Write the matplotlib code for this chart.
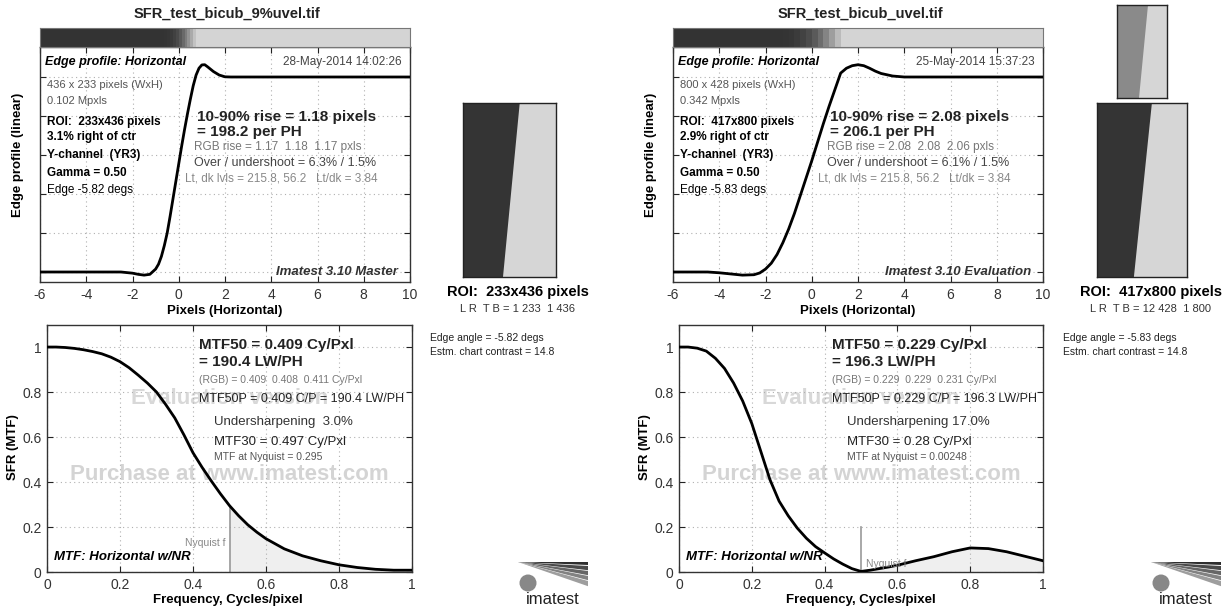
import matplotlib.pyplot as plt
from matplotlib.patches import Polygon, Circle

plt.rcParams['font.family'] = ['Liberation Sans', 'DejaVu Sans']
plt.rcParams['axes.unicode_minus'] = False

# ---- data ----
# edge profiles (normalised, dark=0, light=1)
edge_x_left = [-6, -4, -2.5, -2, -1.75, -1.5, -1.25, -1.0, -0.875, -0.75, -0.625, -0.5,
               -0.375, -0.25, -0.125, 0, 0.125, 0.25, 0.375, 0.5, 0.625, 0.75, 0.875,
               1.0, 1.125, 1.25, 1.5, 1.75, 2.0, 2.25, 4, 6, 8, 10]
edge_y_left = [0, 0, 0, -0.006, -0.012, -0.016, -0.012, 0.015, 0.04, 0.08, 0.135, 0.2,
               0.285, 0.375, 0.465, 0.555, 0.645, 0.73, 0.81, 0.885, 0.955, 1.01, 1.045,
               1.062, 1.063, 1.052, 1.028, 1.01, 1.001, 1.0, 1.0, 1.0, 1.0, 1.0]

edge_x_right = [-6, -4.5, -4, -3.5, -3, -2.5, -2.25, -2, -1.75, -1.5, -1.25, -1, -0.75,
                -0.5, -0.25, 0, 0.25, 0.5, 0.75, 1.0, 1.25, 1.5, 1.75, 2.0, 2.25, 2.5,
                2.75, 3.0, 3.5, 4.0, 6, 8, 10]
edge_y_right = [0, 0, -0.004, -0.01, -0.016, -0.014, -0.005, 0.015, 0.045, 0.09, 0.15,
                0.22, 0.3, 0.39, 0.48, 0.57, 0.665, 0.76, 0.85, 0.935, 1.02, 1.045, 1.058,
                1.063, 1.058, 1.045, 1.03, 1.018, 1.005, 1.0, 1.0, 1.0, 1.0]

# MTF curves
freq = [0, 0.025, 0.05, 0.075, 0.1, 0.125, 0.15, 0.175, 0.2, 0.225, 0.25, 0.275,
        0.3, 0.325, 0.35, 0.375, 0.4, 0.425, 0.45, 0.475, 0.5, 0.525, 0.55, 0.575,
        0.6, 0.65, 0.7, 0.75, 0.8, 0.85, 0.9, 0.95, 1.0]
mtf_left = [1.0, 1.0, 0.998, 0.994, 0.988, 0.98, 0.97, 0.955, 0.935, 0.908, 0.875, 0.84,
            0.80, 0.745, 0.685, 0.61, 0.53, 0.465, 0.405, 0.348, 0.295, 0.25, 0.21, 0.177,
            0.148, 0.103, 0.072, 0.05, 0.032, 0.02, 0.012, 0.008, 0.008]
mtf_right = [1.0, 1.0, 0.995, 0.982, 0.95, 0.905, 0.84, 0.76, 0.66, 0.535, 0.41, 0.315,
             0.25, 0.195, 0.15, 0.113, 0.085, 0.058, 0.035, 0.015, 0.0025, 0.008, 0.015, 0.022,
             0.03, 0.05, 0.068, 0.09, 0.107, 0.104, 0.09, 0.07, 0.05]
nyquist = 0.5

edge_ticks = [-6, -4, -2, 0, 2, 4, 6, 8, 10]
mtf_ticks = [0, 0.2, 0.4, 0.6, 0.8, 1]
mtf_tick_labels = ['0', '0.2', '0.4', '0.6', '0.8', '1']

titles = ['SFR_test_bicub_9%uvel.tif', 'SFR_test_bicub_uvel.tif']
dates = ['28-May-2014 14:02:26', '25-May-2014 15:37:23']
sizes = ['436 x 233 pixels (WxH)', '800 x 428 pixels (WxH)']
mpxls = ['0.102 Mpxls', '0.342 Mpxls']
rois = ['ROI:  233x436 pixels', 'ROI:  417x800 pixels']
offsets = ['3.1% right of ctr', '2.9% right of ctr']
edges = ['Edge -5.82 degs', 'Edge -5.83 degs']
rise1 = ['10-90% rise = 1.18 pixels', '10-90% rise = 2.08 pixels']
rise2 = ['= 198.2 per PH', '= 206.1 per PH']
rgb_rise = ['RGB rise = 1.17  1.18  1.17 pxls', 'RGB rise = 2.08  2.08  2.06 pxls']
overshoot = ['Over / undershoot = 6.3% / 1.5%', 'Over / undershoot = 6.1% / 1.5%']
versions = ['Imatest 3.10 Master', 'Imatest 3.10 Evaluation']
lrtb = ['L R  T B = 1 233  1 436', 'L R  T B = 12 428  1 800']
edge_angle = ['Edge angle = -5.82 degs', 'Edge angle = -5.83 degs']
mtf50 = ['MTF50 = 0.409 Cy/Pxl', 'MTF50 = 0.229 Cy/Pxl']
lwph = ['= 190.4 LW/PH', '= 196.3 LW/PH']
rgb_mtf = ['(RGB) = 0.409  0.408  0.411 Cy/Pxl', '(RGB) = 0.229  0.229  0.231 Cy/Pxl']
mtf50p = ['MTF50P = 0.409 C/P = 190.4 LW/PH', 'MTF50P = 0.229 C/P = 196.3 LW/PH']
usharp = ['Undersharpening  3.0%', 'Undersharpening 17.0%']
mtf30 = ['MTF30 = 0.497 Cy/Pxl', 'MTF30 = 0.28 Cy/Pxl']
mtf_nyq = ['MTF at Nyquist = 0.295', 'MTF at Nyquist = 0.00248']

W, H = 1229, 612
fig = plt.figure(figsize=(W / 100, H / 100), dpi=100)


def add_ax(x0, y0, x1, y1):
    return fig.add_axes([x0 / W, 1 - y1 / H, (x1 - x0) / W, (y1 - y0) / H])


def ftext(x, y, s, **kw):
    kw.setdefault('va', 'center')
    fig.text(x / W, 1 - y / H, s, **kw)


def style(ax):
    ax.tick_params(direction='in', top=True, right=True, length=4, width=0.8,
                   labelsize=10, labelcolor='#333333', color='#222222', pad=4)
    ax.grid(True, linestyle=(0, (1, 3)), color='#b0b0b0', linewidth=0.8)
    for s in ax.spines.values():
        s.set_color('#333333')
        s.set_linewidth(1.0)


def draw_logo(x0, y0):
    ax = add_ax(x0, y0, x0 + 72, y0 + 48)
    ax.set_xlim(0, 72)
    ax.set_ylim(48, 0)
    ax.axis('off')
    # fanned stripes, dark at the top
    greys = ['#2e2e2e', '#4a4a4a', '#666666', '#828282', '#9e9e9e']
    bounds = [2, 6, 11, 16, 21, 27]
    for i, g in enumerate(greys):
        ax.add_patch(Polygon([(0, 2), (70, bounds[i]), (70, bounds[i + 1] - 0.8)],
                             closed=True, fc=g, ec='none'))
    ax.add_patch(Circle((10, 23), 8.5, fc='#888888', ec='none'))
    ax.text(35, 39, 'imatest', ha='center', va='center', fontsize=12, color='#222222')


def draw_roi(x0, y0, x1, y1, top, bottom, dark):
    ax = add_ax(x0, y0, x1, y1)
    ax.set_xlim(0, 1)
    ax.set_ylim(0, 1)
    ax.set_xticks([])
    ax.set_yticks([])
    ax.set_facecolor('#d6d6d6')
    ax.add_patch(Polygon([(0, 0), (0, 1), (top, 1), (bottom, 0)], fc=dark, ec='none'))
    for s in ax.spines.values():
        s.set_color('#222222')
        s.set_linewidth(1.0)
    return ax


panels = [
    dict(ex=edge_x_left, ey=edge_y_left, mtf=mtf_left, tx0=40, tx1=410, bx0=47, bx1=412, dx=0),
    dict(ex=edge_x_right, ey=edge_y_right, mtf=mtf_right, tx0=673, tx1=1043, bx0=679, bx1=1043, dx=633),
]

for i, p in enumerate(panels):
    dx = p['dx']
    # --- edge profile ---
    ax = add_ax(p['tx0'], 47, p['tx1'], 282)
    ax.plot(p['ex'], p['ey'], color='black', linewidth=2.0, zorder=3)
    ax.set_xlim(-6, 10)
    ax.set_ylim(-10 / 195, 225 / 195)
    ax.set_xticks(edge_ticks)
    ax.set_yticks([0, 0.2, 0.4, 0.6, 0.8, 1.0])
    style(ax)
    ax.tick_params(axis='y', labelleft=False)

    # grey band showing the edge
    band = add_ax(p['tx0'], 28, p['tx1'], 47)
    shade = [0.2 + 0.63 * min(max(v, 0), 1) ** 2.5 for v in p['ey']]
    band.pcolormesh(p['ex'], [0, 1], [shade[:-1]], cmap='gray',
                    vmin=0, vmax=1, shading='flat')
    band.set_xlim(-6, 10)
    band.set_xticks([])
    band.set_yticks([])
    for s in band.spines.values():
        s.set_color('#777777')

    ftext(p['tx0'] + 5, 62, 'Edge profile: Horizontal', fontsize=9, weight='bold', style='italic')
    ftext(p['tx1'] - 8, 62, dates[i], fontsize=8.5, color='#444444', ha='right')
    ftext(p['tx0'] + 7, 85, sizes[i], fontsize=8, color='#555555')
    ftext(p['tx0'] + 7, 101, mpxls[i], fontsize=8, color='#555555')
    ftext(p['tx0'] + 7, 122, rois[i], fontsize=8.5, weight='bold')
    ftext(p['tx0'] + 7, 137, offsets[i], fontsize=8.5, weight='bold')
    ftext(p['tx0'] + 7, 155, 'Y-channel  (YR3)', fontsize=8.5, weight='bold')
    ftext(p['tx0'] + 7, 173, 'Gamma = 0.50', fontsize=8.5, weight='bold')
    ftext(p['tx0'] + 7, 190, edges[i], fontsize=8.5)
    ftext(197 + dx, 117, rise1[i], fontsize=11, weight='bold', color='#222222')
    ftext(197 + dx, 132, rise2[i], fontsize=11, weight='bold', color='#222222')
    ftext(194 + dx, 147, rgb_rise[i], fontsize=8.5, color='#777777')
    ftext(194 + dx, 163, overshoot[i], fontsize=9, color='#444444')
    ftext(185 + dx, 178, 'Lt, dk lvls = 215.8, 56.2   Lt/dk = 3.84', fontsize=8.5, color='#888888')
    ftext(p['tx1'] - 12, 272, versions[i], fontsize=9.5, weight='bold', style='italic', color='#333333', ha='right')

    ftext(227 + dx, 14, titles[i], fontsize=10.5, weight='bold', ha='center', color='#222222')
    ftext(p['tx0'] - 22, 155, 'Edge profile (linear)', fontsize=9.5, weight='bold', rotation=90, ha='center')
    ftext(225 + dx, 311, 'Pixels (Horizontal)', fontsize=9.5, weight='bold', ha='center')

    # --- MTF ---
    bx = add_ax(p['bx0'], 325, p['bx1'], 572)
    mtf = p['mtf']
    bx.text(0.5, 0.77, 'Evaluation version', fontsize=16, weight='bold', color='#d8d8d8',
            ha='center', va='center', zorder=1)
    bx.text(0.5, 0.435, 'Purchase at www.imatest.com', fontsize=16, weight='bold', color='#d4d4d4',
            ha='center', va='center', zorder=1)
    nyq_idx = freq.index(nyquist)
    bx.fill_between(freq[nyq_idx:], mtf[nyq_idx:], 0, color='#efefef', zorder=1.5)
    bx.plot([nyquist, nyquist], [0, max(mtf[nyq_idx], 0.2)], color='#999999', linewidth=1.2, zorder=2)
    bx.plot(freq, mtf, color='black', linewidth=2.0, zorder=3)
    bx.set_xlim(0, 1)
    bx.set_ylim(0, 1.098)
    bx.set_xticks(mtf_ticks)
    bx.set_xticklabels(mtf_tick_labels)
    bx.set_yticks(mtf_ticks)
    bx.set_yticklabels(mtf_tick_labels)
    style(bx)
    if i == 0:
        bx.text(nyquist - 0.01, 0.13, 'Nyquist f', fontsize=7.5, color='#888888', ha='right', va='center')
    else:
        bx.text(nyquist + 0.015, 0.035, 'Nyquist f', fontsize=7.5, color='#888888', ha='left', va='center')

    ftext(199 + dx, 345, mtf50[i], fontsize=11, weight='bold', color='#222222')
    ftext(199 + dx, 362, lwph[i], fontsize=11, weight='bold', color='#222222')
    ftext(199 + dx, 380, rgb_mtf[i], fontsize=7.5, color='#777777')
    ftext(199 + dx, 399, mtf50p[i], fontsize=9, color='#222222')
    ftext(214 + dx, 422, usharp[i], fontsize=9.5, color='#333333')
    ftext(214 + dx, 442, mtf30[i], fontsize=9.5, color='#222222')
    ftext(214 + dx, 457, mtf_nyq[i], fontsize=7.5, color='#555555')
    ftext(p['bx0'] + 7, 557, 'MTF: Horizontal w/NR', fontsize=9.5, weight='bold', style='italic')

    ftext(p['bx0'] - 34, 447, 'SFR (MTF)', fontsize=9.5, weight='bold', rotation=90, ha='center')
    ftext(228 + dx, 600, 'Frequency, Cycles/pixel', fontsize=9.5, weight='bold', ha='center')

    # side notes
    ftext(430 + dx, 338, edge_angle[i], fontsize=7.5, color='#222222')
    ftext(430 + dx, 352, 'Estm. chart contrast = 14.8', fontsize=7.5, color='#222222')
    ftext(518 + dx, 292, rois[i], fontsize=10.5, weight='bold', ha='center')
    ftext(518 + dx, 309, lrtb[i], fontsize=8, color='#333333', ha='center')
    draw_logo(518 + dx, 560)

# ROI thumbnails
draw_roi(463, 103, 556, 277, 0.61, 0.43, '#343434')
draw_roi(1117, 5, 1167, 98, 0.62, 0.44, '#8a8a8a')
draw_roi(1097, 103, 1187, 277, 0.61, 0.41, '#343434')

fig.savefig('out.png', dpi=100, facecolor='white')
